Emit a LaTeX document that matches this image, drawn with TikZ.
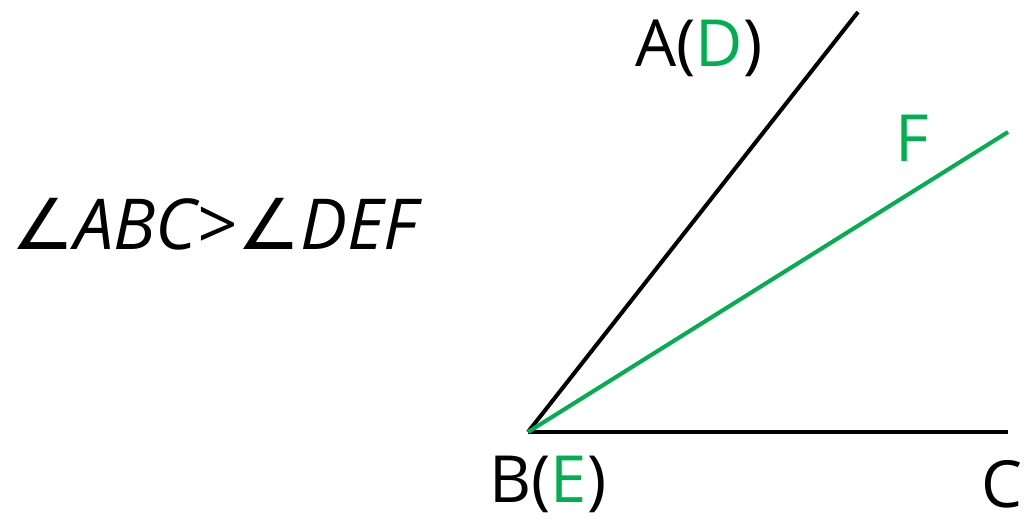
\documentclass[tikz,border=0pt]{standalone}
\usepackage{fontspec}
\setmainfont{Open Sans}
\newfontfamily\angfont{DejaVu Sans}
\definecolor{grn}{HTML}{00B050}
\begin{document}
\begin{tikzpicture}[x=0.02cm,y=-0.02cm,
  seg/.style={line width=2.3pt},
  lbl/.style={font=\fontsize{37}{40}\selectfont, inner sep=0pt}]
\useasboundingbox (0,0) rectangle (1033,518);
\coordinate (B) at (528,432);
\coordinate (A) at (858,12);
\coordinate (F) at (1008,132);
\coordinate (C) at (1008,432);
\draw[seg] (B) -- (A);
\draw[seg] (B) -- (C);
\draw[seg, grn] (B) -- (F);
\node[lbl] (la) at (699,48) {A(\textcolor{grn}{D})};
\node[lbl, text=grn] (lf) at (912,138) {F};
\node[lbl] (lb) at (548,484) {B(\textcolor{grn}{E})};
\node[lbl] (lc) at (1002,484) {C};
\node[lbl, font=\fontsize{40}{44}\selectfont] (eq) at (214,224) {{\angfont\itshape ∠}\itshape ABC>{\angfont\itshape ∠}DEF};
\end{tikzpicture}
\end{document}
